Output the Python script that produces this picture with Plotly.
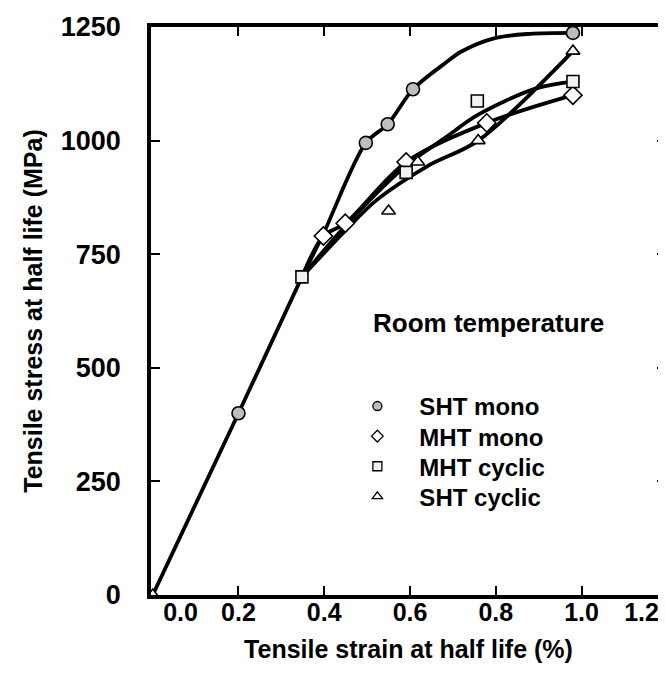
import plotly.graph_objects as go

sht_mono_x = [0.20, 0.497, 0.548, 0.607, 0.98]
sht_mono_y = [400, 995, 1036, 1113, 1237]

mht_mono_x = [0.398, 0.449, 0.591, 0.779, 0.98]
mht_mono_y = [790, 818, 953, 1039, 1100]

mht_cyc_x = [0.348, 0.591, 0.757, 0.98]
mht_cyc_y = [700, 930, 1087, 1130]

sht_cyc_x = [0.0, 0.550, 0.618, 0.759, 0.98]
sht_cyc_y = [0, 845, 953, 1000, 1197]

# ---- hand-drawn curves ----
elastic_x = [0.0, 0.2, 0.348]
elastic_y = [0, 400, 700]
sht_mono_curve_x = [0.348, 0.398, 0.497, 0.548, 0.607, 0.68, 0.72, 0.80, 0.88, 0.98]
sht_mono_curve_y = [700, 795, 995, 1036, 1113, 1169, 1196, 1226, 1235, 1237]
mht_mono_curve_x = [0.348, 0.398, 0.449, 0.591, 0.779, 0.98]
mht_mono_curve_y = [700, 790, 818, 953, 1039, 1100]
mht_cyc_curve_x = [0.348, 0.449, 0.591, 0.68, 0.759, 0.894, 0.98]
mht_cyc_curve_y = [700, 812, 945, 1005, 1057, 1115, 1130]
sht_cyc_curve_x = [0.348, 0.449, 0.522, 0.641, 0.759, 0.98]
sht_cyc_curve_y = [700, 802, 869, 944, 1000, 1197]

x_tick_vals = [0.2, 0.4, 0.6, 0.8, 1.0]
x_label_vals = [0.065, 0.2, 0.4, 0.6, 0.8, 1.0, 1.14]
x_label_text = ["0.0", "0.2", "0.4", "0.6", "0.8", "1.0", "1.2"]
y_tick_vals = [0, 250, 500, 750, 1000, 1250]

series_names = ["SHT mono", "MHT mono", "MHT cyclic", "SHT cyclic"]
legend_rows = [0.332, 0.279, 0.226, 0.173]

FONT = "Liberation Sans"
FS = 25
BLACK = "#000000"

styles = [
    dict(symbol="circle", size=13, color="#bdbdbd"),
    dict(symbol="diamond", size=14, color="#ffffff"),
    dict(symbol="square", size=12, color="#f2f2f2"),
    dict(symbol="triangle-up", size=12, color="#ffffff"),
]
points = [
    (sht_mono_x, sht_mono_y),
    (mht_mono_x, mht_mono_y),
    (mht_cyc_x, mht_cyc_y),
    (sht_cyc_x, sht_cyc_y),
]
curves = [
    (elastic_x, elastic_y),
    (sht_mono_curve_x, sht_mono_curve_y),
    (mht_mono_curve_x, mht_mono_curve_y),
    (mht_cyc_curve_x, mht_cyc_curve_y),
    (sht_cyc_curve_x, sht_cyc_curve_y),
]

fig = go.Figure()
for xs, ys in curves:
    fig.add_trace(go.Scatter(
        x=xs, y=ys, mode="lines",
        line=dict(color=BLACK, width=3.8, shape="spline", smoothing=0.9),
        showlegend=False, hoverinfo="skip"))
for (xs, ys), st in zip(points, styles):
    fig.add_trace(go.Scatter(
        x=xs, y=ys, mode="markers",
        marker=dict(symbol=st["symbol"], size=st["size"], color=st["color"],
                    line=dict(color=BLACK, width=1.6)),
        showlegend=False, cliponaxis=True))

legend_layout = {}
for i, (name, st, ly) in enumerate(zip(series_names, styles, legend_rows)):
    key = "legend" if i == 0 else f"legend{i + 1}"
    fig.add_trace(go.Scatter(
        x=[None], y=[None], mode="markers", name=name, xaxis="x2",
        legend=key,
        marker=dict(symbol=st["symbol"], size=9, color=st["color"],
                    line=dict(color=BLACK, width=1.3))))
    legend_layout[key] = dict(
        x=0.358, y=ly, xanchor="left", yanchor="middle",
        bgcolor="rgba(0,0,0,0)", borderwidth=0,
        font=dict(family=FONT, size=FS - 1, weight="bold"),
        itemwidth=74)

fig.update_layout(
    width=666, height=677,
    margin=dict(l=143, r=4, t=18, b=90),
    paper_bgcolor="white", plot_bgcolor="white",
    font=dict(family=FONT, size=FS, color=BLACK, weight="bold"),
    xaxis=dict(
        range=[-0.004, 1.197], tickvals=x_tick_vals, showticklabels=False,
        ticks="inside", ticklen=9, tickwidth=2, tickcolor=BLACK,
        showline=True, linewidth=3.5, linecolor=BLACK, mirror="ticks",
        showgrid=False, zeroline=False,
        title=dict(text="Tensile strain at half life (%)", standoff=44,
                   font=dict(family=FONT, size=FS, weight="bold")),
    ),
    xaxis2=dict(
        range=[-0.004, 1.197], overlaying="x", anchor="y", side="bottom",
        tickvals=x_label_vals, ticktext=x_label_text, ticks="",
        showline=False, showgrid=False, zeroline=False,
        tickfont=dict(family=FONT, size=FS, weight="bold"),
    ),
    yaxis=dict(
        range=[0, 1250], tickvals=y_tick_vals,
        ticks="inside", ticklen=9, tickwidth=2, tickcolor=BLACK,
        showline=True, linewidth=3.5, linecolor=BLACK, mirror="ticks",
        showgrid=False, zeroline=False, ticklabelstandoff=21,
        tickfont=dict(family=FONT, size=FS + 2, weight="bold"),
        title=dict(text="Tensile stress at half life (MPa)", standoff=12,
                   font=dict(family=FONT, size=FS, weight="bold")),
    ),
    annotations=[dict(
        text="Room temperature", x=0.655, y=0.478, xref="paper", yref="paper",
        showarrow=False, xanchor="center", yanchor="middle",
        font=dict(family=FONT, size=FS + 1, weight="bold"))],
    **legend_layout,
)

fig.write_html("out.html")
